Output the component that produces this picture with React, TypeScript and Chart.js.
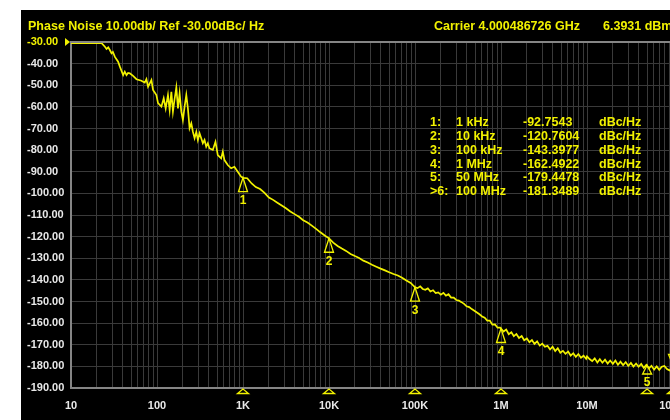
import React, { useEffect, useRef } from "react";
import { Chart, registerables } from "chart.js";

Chart.register(...registerables);

// ---- Trace data (offset frequency in Hz, phase noise in dBc/Hz) ----
const lowHz = [
  10, 22.7, 24.8, 25.9, 27.1, 28.3, 29.6, 30.7, 32.4, 35.3,
  37.0, 40.4, 42.2, 44.2, 46.1, 48.3, 52.7, 57.7, 65.9, 72.0,
  75.3, 78.7, 86.1, 89.9, 98.4, 102.8, 112.5, 119.7, 126.2, 134.1,
  140.3, 146.9, 153.2, 160, 167.8, 175.2, 183.2, 191.7, 200.1, 209.4,
  219.1, 228.7, 239.3, 250.5, 261.5, 273.6, 286.4, 298.8, 312.6, 326.9,
  341.3, 357.1, 373.5, 390.0, 408.0, 445.7, 478.6, 509.0, 557.5, 582.1,
  608.6, 665.1, 728.2, 794.6, 868.4, 951.0,
];
const lowDbc = [
  -30.5, -30.5, -32.2, -33.2, -32.5, -33.7, -35.2, -34.6, -36.9, -39.1,
  -41.4, -45.3, -43.7, -45.3, -44.3, -44.5, -45.7, -47.2, -47.9, -48.8,
  -47.2, -50.7, -47.6, -52.2, -54.5, -58.3, -59.9, -56.0, -60.7, -54.5,
  -61.4, -53.0, -62.2, -56.5, -51.0, -60.7, -53.7, -62.2, -66.1, -59.9,
  -54.5, -60.7, -69.9, -67.6, -71.5, -74.5, -71.5, -75.3, -72.2, -74.5,
  -76.8, -75.3, -78.4, -76.8, -79.2, -79.9, -76.1, -82.3, -83.8, -80.7,
  -84.6, -86.9, -88.4, -87.7, -90.0, -92.3,
];

const midHz = [
  1000, 1120, 1260, 1410, 1580, 1780, 2000, 2240, 2510, 2820,
  3160, 3550, 3980, 4470, 5010, 5620, 6310, 7080, 7940, 8910,
  10000, 11200, 12600, 14100, 15800, 17800, 20000, 22400, 25100, 28200,
  31600, 35500, 39800, 44700, 50100, 56200, 63100, 70800, 79400, 89100,
];
const midDbc = [
  -92.8, -93.0, -95.4, -97.1, -98.0, -99.8, -101.9, -103.0, -104.3, -105.6,
  -106.9, -108.4, -109.6, -110.8, -112.4, -113.5, -114.9, -116.4, -118.0, -119.5,
  -120.8, -122.8, -124.3, -125.5, -126.6, -128.0, -129.0, -129.9, -131.1, -132.0,
  -133.0, -133.9, -134.8, -135.6, -136.5, -137.3, -138.0, -139.0, -140.3, -141.4,
];

const hf5Hz = [
  1.0e5, 1.07e5, 1.15e5, 1.23e5, 1.32e5, 1.41e5, 1.51e5, 1.62e5, 1.74e5, 1.86e5,
  2.0e5, 2.14e5, 2.29e5, 2.45e5, 2.63e5, 2.82e5, 3.02e5, 3.24e5, 3.47e5, 3.72e5,
  3.98e5, 4.27e5, 4.57e5, 4.9e5, 5.25e5, 5.62e5, 6.03e5, 6.46e5, 6.92e5, 7.41e5,
  7.94e5, 8.51e5, 9.12e5, 9.77e5,
];
const hf5Dbc = [
  -143.4, -143.8, -143.0, -144.2, -144.6, -143.9, -145.4, -144.8, -146.1, -145.8,
  -146.8, -146.0, -147.3, -146.6, -148.2, -148.2, -149.3, -149.6, -150.3, -151.1,
  -152.2, -152.6, -153.5, -154.3, -155.1, -155.9, -156.9, -157.5, -158.8, -158.8,
  -160.7, -160.6, -162.1, -162.1,
];
const hf6Hz = [
  1.0e6, 1.07e6, 1.15e6, 1.23e6, 1.32e6, 1.41e6, 1.51e6, 1.62e6, 1.74e6, 1.86e6,
  2.0e6, 2.14e6, 2.29e6, 2.45e6, 2.63e6, 2.82e6, 3.02e6, 3.24e6, 3.47e6, 3.72e6,
  3.98e6, 4.27e6, 4.57e6, 4.9e6, 5.25e6, 5.62e6, 6.03e6, 6.46e6, 6.92e6, 7.41e6,
  7.94e6, 8.51e6, 9.12e6, 9.77e6,
];
const hf6Dbc = [
  -162.5, -163.9, -163.0, -165.1, -164.2, -166.0, -165.0, -166.9, -166.0, -167.9,
  -167.1, -168.8, -167.8, -169.6, -168.4, -170.4, -169.5, -170.9, -170.5, -172.2,
  -170.9, -172.9, -171.6, -173.7, -172.8, -174.2, -173.1, -175.0, -173.9, -175.6,
  -174.3, -176.0, -175.1, -176.5,
];
const hf7Hz = [
  1.0e7, 1.07e7, 1.15e7, 1.23e7, 1.32e7, 1.41e7, 1.51e7, 1.62e7, 1.74e7, 1.86e7,
  2.0e7, 2.14e7, 2.29e7, 2.45e7, 2.63e7, 2.82e7, 3.02e7, 3.24e7, 3.47e7, 3.72e7,
  3.98e7, 4.27e7, 4.57e7, 4.9e7, 5.25e7, 5.62e7, 6.03e7, 6.46e7, 6.92e7, 7.41e7,
  7.94e7, 8.51e7, 9.12e7, 9.77e7, 1.0e8,
];
const hf7Dbc = [
  -175.4, -176.6, -177.6, -176.3, -178.2, -176.7, -178.3, -176.9, -178.7, -177.3,
  -178.8, -177.3, -179.3, -177.8, -179.4, -178.0, -179.8, -178.4, -180.1, -178.7,
  -180.2, -178.9, -180.7, -179.3, -180.9, -179.7, -181.5, -180.0, -181.6, -180.2,
  -179.8, -181.2, -181.9, -180.8, -181.3,
];

// ---- Axes ----
const yMin = -190;
const yMax = -30;
const yStep = 10;
const xMin = 10;
const xMax = 1e8;
const xDecades = [10, 100, 1e3, 1e4, 1e5, 1e6, 1e7, 1e8];
const xDecadeLabels = ["10", "100", "1K", "10K", "100K", "1M", "10M", "100M"];
const minorSteps = [1, 2, 3, 4, 5, 6, 7, 8, 9];

// ---- Markers ----
const markerNames = ["1:", "2:", "3:", "4:", "5:", ">6:"];
const markerNumbers = ["1", "2", "3", "4", "5", "6"];
const markerHz = [1e3, 1e4, 1e5, 1e6, 5e7, 1e8];
const markerFreqText = ["1 kHz", "10 kHz", "100 kHz", "1 MHz", "50 MHz", "100 MHz"];
const markerDbc = [-92.7543, -120.7604, -143.3977, -162.4922, -179.4478, -181.3489];

// ---- Header text ----
const titleText = "Phase Noise 10.00db/ Ref -30.00dBc/ Hz";
const carrierText = "Carrier 4.000486726 GHz";
const powerText = "6.3931 dBm";
const unitText = "dBc/Hz";
const refLevel = -30;

const YELLOW = "#f2f200";
const WHITE = "#e8e8e8";
const GRID = "#3a3a3a";
const BORDER = "#858585";
const FONT = '"Liberation Sans", Arial, Helvetica, sans-serif';

const overlay = {
  id: "overlay",
  afterDraw(chart: any) {
    const { ctx, chartArea: ca, scales } = chart;
    const xs = scales.x;
    const ys = scales.y;
    ctx.save();

    // top border line
    ctx.strokeStyle = BORDER;
    ctx.lineWidth = 2;
    ctx.beginPath();
    ctx.moveTo(ca.left, ca.top);
    ctx.lineTo(chart.width, ca.top);
    ctx.stroke();

    // reference level pointer
    const ry = ys.getPixelForValue(refLevel);
    ctx.fillStyle = YELLOW;
    ctx.beginPath();
    ctx.moveTo(ca.left - 6, ry - 4);
    ctx.lineTo(ca.left - 1, ry);
    ctx.lineTo(ca.left - 6, ry + 4);
    ctx.closePath();
    ctx.fill();

    // header
    ctx.font = `bold 12.5px ${FONT}`;
    ctx.textAlign = "left";
    ctx.textBaseline = "alphabetic";
    ctx.fillText(titleText, 7, 20);
    ctx.fillText(carrierText, 413, 20);
    ctx.fillText(powerText, 582, 20);

    // marker table
    ctx.textBaseline = "middle";
    markerNames.forEach((n, i) => {
      const y = 112.5 + i * 13.85;
      ctx.fillText(n, 409, y);
      ctx.fillText(markerFreqText[i], 435, y);
      ctx.fillText(markerDbc[i].toFixed(4), 502, y);
      ctx.fillText(unitText, 578, y);
    });

    // markers on trace and on axis
    ctx.strokeStyle = YELLOW;
    ctx.lineWidth = 1.3;
    ctx.font = `bold 12px ${FONT}`;
    ctx.textAlign = "center";
    markerHz.forEach((f, i) => {
      const x = xs.getPixelForValue(f);
      const y = ys.getPixelForValue(markerDbc[i]);
      const active = markerNames[i].startsWith(">");
      if (!active) {
        const h = Math.min(14, ca.bottom - y - 14);
        ctx.beginPath();
        ctx.moveTo(x, y);
        ctx.lineTo(x - 4.5, y + h);
        ctx.lineTo(x + 4.5, y + h);
        ctx.closePath();
        ctx.stroke();
        ctx.textBaseline = "top";
        ctx.fillText(markerNumbers[i], x, y + h + 3);
      } else {
        ctx.beginPath();
        ctx.moveTo(x, y - 4);
        ctx.lineTo(x - 4.5, y - 15);
        ctx.lineTo(x + 4.5, y - 15);
        ctx.closePath();
        ctx.stroke();
        ctx.textBaseline = "bottom";
        ctx.fillText(markerNumbers[i], x, y - 17);
      }
      ctx.beginPath();
      ctx.moveTo(x, ca.bottom + 1);
      ctx.lineTo(x - 5.5, ca.bottom + 5.5);
      ctx.lineTo(x + 5.5, ca.bottom + 5.5);
      ctx.closePath();
      ctx.stroke();
    });

    ctx.restore();
  },
};

export default function App() {
  const ref = useRef<HTMLCanvasElement | null>(null);

  useEffect(() => {
    if (!ref.current) return;
    const allHz = [...lowHz, ...midHz, ...hf5Hz, ...hf6Hz, ...hf7Hz];
    const allDbc = [...lowDbc, ...midDbc, ...hf5Dbc, ...hf6Dbc, ...hf7Dbc];
    const points = allHz.map((f, i) => ({ x: f, y: allDbc[i] }));
    const gridValues: number[] = [];
    xDecades.forEach((d) => {
      minorSteps.forEach((m) => {
        const v = d * m;
        if (v <= xMax) gridValues.push(v);
      });
    });

    const chart = new Chart(ref.current, {
      type: "line",
      data: {
        datasets: [
          {
            data: points,
            borderColor: YELLOW,
            borderWidth: 1.7,
            pointRadius: 0,
            tension: 0,
            fill: false,
          },
        ],
      },
      plugins: [overlay],
      options: {
        animation: false,
        responsive: false,
        devicePixelRatio: 1,
        layout: { padding: { top: 32, right: 28, left: 6, bottom: 0 } },
        plugins: {
          legend: { display: false },
          tooltip: { enabled: false },
          title: { display: false },
        },
        scales: {
          x: {
            type: "logarithmic",
            min: xMin,
            max: xMax,
            afterBuildTicks: (scale: any) => {
              scale.ticks = gridValues.map((v) => ({ value: v }));
            },
            afterFit: (scale: any) => {
              scale.height = 32;
            },
            grid: { color: GRID, lineWidth: 1, drawTicks: false },
            border: { color: BORDER, width: 2 },
            ticks: {
              autoSkip: false,
              maxRotation: 0,
              padding: 11,
              color: WHITE,
              font: { family: FONT, size: 11, weight: "bold" },
              callback: (v: any) => {
                const idx = xDecades.indexOf(Number(v));
                return idx >= 0 ? xDecadeLabels[idx] : "";
              },
            },
          },
          y: {
            type: "linear",
            min: yMin,
            max: yMax,
            afterFit: (scale: any) => {
              scale.width = 44;
            },
            grid: { color: GRID, lineWidth: 1, drawTicks: false },
            border: { color: BORDER, width: 2 },
            ticks: {
              stepSize: yStep,
              padding: 6,
              crossAlign: "far",
              color: (c: any) => (c.tick && c.tick.value === refLevel ? YELLOW : WHITE),
              font: { family: FONT, size: 11, weight: "bold" },
              callback: (v: any) => Number(v).toFixed(2),
            },
          },
        },
      } as any,
    });
    return () => chart.destroy();
  }, []);

  return (
    <div
      style={{
        position: "absolute",
        left: 21,
        top: 10,
        width: 649,
        height: 410,
        overflow: "hidden",
        background: "#000",
      }}
    >
      <canvas ref={ref} width={680} height={410} style={{ display: "block" }} />
    </div>
  );
}
